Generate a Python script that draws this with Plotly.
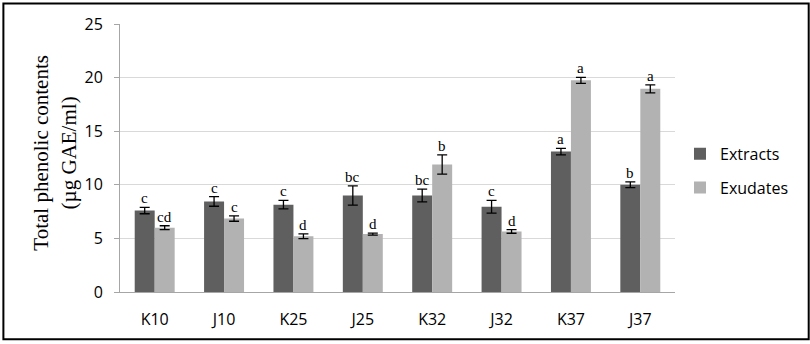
import plotly.graph_objects as go

categories = ["K10", "J10", "K25", "J25", "K32", "J32", "K37", "J37"]
extracts = [7.6, 8.45, 8.15, 9.0, 9.0, 7.95, 13.1, 10.0]
extracts_err = [0.3, 0.45, 0.4, 0.9, 0.6, 0.6, 0.3, 0.27]
exudates = [6.0, 6.85, 5.2, 5.4, 11.9, 5.65, 19.75, 18.95]
exudates_err = [0.18, 0.25, 0.22, 0.1, 0.9, 0.17, 0.28, 0.37]
extracts_letters = ["c", "c", "c", "bc", "bc", "c", "a", "b"]
exudates_letters = ["cd", "c", "d", "d", "b", "d", "a", "a"]
y_ticks = [0, 5, 10, 15, 20, 25]

fig = go.Figure()
fig.add_trace(go.Bar(
    x=categories, y=extracts, name="Extracts", legendgroup="g1",
    marker=dict(color="#5f5f5f", line=dict(width=0)),
    error_y=dict(type="data", array=extracts_err, color="black", thickness=1.3, width=5),
))
fig.add_trace(go.Bar(
    x=categories, y=exudates, name="Exudates", legendgroup="g2",
    marker=dict(color="#b2b2b2", line=dict(width=0)),
    error_y=dict(type="data", array=exudates_err, color="black", thickness=1.3, width=5),
))

annotations = []
for c, v, e, t in zip(categories, extracts, extracts_err, extracts_letters):
    annotations.append(dict(x=c, y=v + e, text=t, showarrow=False, xshift=-10, yshift=-1,
                            yanchor="bottom", font=dict(family="Liberation Serif", size=15, color="black")))
for c, v, e, t in zip(categories, exudates, exudates_err, exudates_letters):
    annotations.append(dict(x=c, y=v + e, text=t, showarrow=False, xshift=10, yshift=-1,
                            yanchor="bottom", font=dict(family="Liberation Serif", size=15, color="black")))
annotations.append(dict(
    x=-0.117, y=0.52, xref="paper", yref="paper", showarrow=False, textangle=-90,
    xanchor="center", yanchor="middle",
    text="Total phenolic contents<br>(µg GAE/ml)",
    font=dict(family="Liberation Serif", size=21, color="black"),
))

fig.update_layout(
    width=810, height=344,
    margin=dict(l=120, r=135, t=24, b=52, autoexpand=False),
    paper_bgcolor="white", plot_bgcolor="white",
    barmode="group", bargap=0.424, bargroupgap=0,
    font=dict(family="Open Sans", size=16, color="black"),
    showlegend=True,
    legend=dict(x=1.009, y=0.579, xanchor="left", yanchor="top",
                font=dict(family="Open Sans", size=16, color="black"),
                tracegroupgap=10, traceorder="grouped", itemwidth=30),
    annotations=annotations,
    shapes=[dict(type="rect", xref="paper", yref="paper",
                 x0=-0.2101, x1=1.2409, y0=-0.1766, y1=1.0762,
                 line=dict(color="black", width=2))],
)
fig.update_yaxes(range=[0, 25], tickvals=y_ticks, showgrid=True, gridcolor="#d9d9d9", gridwidth=1,
                 showline=True, linecolor="#a6a6a6", linewidth=1, ticks="outside", ticklen=5,
                 tickcolor="#a6a6a6", ticklabelstandoff=8, zeroline=False,
                 tickfont=dict(family="Open Sans", size=16, color="black"))
fig.update_xaxes(showline=True, linecolor="#a6a6a6", linewidth=1, ticks="", ticklabelstandoff=13,
                 tickfont=dict(family="Open Sans", size=16, color="black"))

fig.write_html("out.html", config={"displayModeBar": False},
               post_script="document.body.style.margin='0';document.body.style.overflow='hidden';")
